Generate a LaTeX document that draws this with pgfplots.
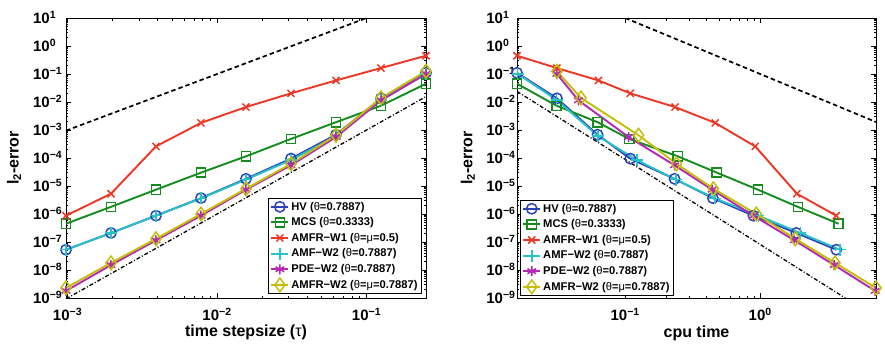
\documentclass[border=0pt]{standalone}
\usepackage{fontspec}
\setmainfont{Liberation Sans}
\usepackage{pgfplots}
\pgfplotsset{compat=1.18}
\definecolor{cHV}{RGB}{45,65,190}
\definecolor{cMCS}{RGB}{20,140,30}
\definecolor{cW1}{RGB}{235,55,35}
\definecolor{cAMF}{RGB}{40,195,200}
\definecolor{cPDE}{RGB}{180,40,180}
\definecolor{cAW2}{RGB}{195,190,10}
\newcommand{\yl}[1]{10\rlap{\textsuperscript{#1}}}
\newcommand{\xl}[1]{10\textsuperscript{#1}}
\newcommand{\lblfont}{\fontsize{16}{19}\selectfont\bfseries}
\tikzset{
  sHV/.style={color=cHV, line width=1.9pt, mark=o, mark size=5.2pt, mark options={solid, line width=1.5pt}},
  sMCS/.style={color=cMCS, line width=1.9pt, mark=square, mark size=4.6pt, mark options={solid, line width=1.5pt}},
  sW1/.style={color=cW1, line width=1.9pt, mark=x, mark size=5pt, mark options={solid, line width=1.5pt}},
  sAMF/.style={color=cAMF, line width=1.9pt, mark=+, mark size=6pt, mark options={solid, line width=1.5pt}},
  sPDE/.style={color=cPDE, line width=1.9pt, mark=asterisk, mark size=5pt, mark options={solid, line width=1.5pt}},
  sAW2/.style={color=cAW2, line width=1.9pt, mark=diamond, mark size=6.8pt, mark options={solid, line width=1.5pt}},
  refA/.style={black, line width=1.7pt, dash pattern=on 4.5pt off 3pt},
  refB/.style={black, line width=1.3pt, dash pattern=on 4pt off 2pt on 1pt off 2pt},
}
\begin{document}
\begin{tikzpicture}
\useasboundingbox (0,0) rectangle (885pt,346pt);
% ---------------- left ----------------
\begin{axis}[xmode=log, ymode=log, scale only axis, height=280pt, width=360pt,
  at={(66pt,48pt)}, anchor=south west,
  ymin=1e-9, ymax=10,
  xmin=0.0009765625, xmax=0.25,
  axis line style={line width=0.9pt},
  tick align=inside, major tick length=5pt, minor tick length=2.5pt,
  every tick/.style={black, line width=0.5pt},
  ytickten={-9,...,1},
  yticklabels={\yl{−9},\yl{−8},\yl{−7},\yl{−6},\yl{−5},\yl{−4},\yl{−3},\yl{−2},\yl{−1},\yl{0},\yl{1}},
  xtickten={-3,-2,-1}, xticklabels={\xl{−3},\xl{−2},\xl{−1}},
  tick label style={font=\fontsize{15}{18}\selectfont\bfseries},
  yticklabel style={anchor=base east, inner sep=0pt, yshift=-5.4pt, xshift=-16pt},
  xticklabel style={anchor=base, inner sep=0pt, yshift=-22.5pt},
  ylabel={l\textsubscript{2}-error},
  xlabel={time stepsize ({\mdseries τ})},
  every axis x label/.style={font=\lblfont, inner sep=0pt, at={(axis description cs:0.5,-0.138)}, anchor=base},
  every axis y label/.style={font=\lblfont, at={(axis description cs:-0.144,0.5)}, rotate=90, anchor=center},
  legend style={font=\fontsize{11.2}{13}\selectfont\bfseries, draw=black, line width=0.8pt,
      fill=white, inner xsep=2pt, inner ysep=1pt,
      nodes={inner ysep=3pt, inner xsep=2pt},
      at={(0.989,0.014)}, anchor=south east},
  legend cell align=left,
]
\addplot[refA, forget plot] coordinates {(0.0009765625,9.5e-4) (0.1,10)};
\addplot[refB, forget plot] coordinates {(0.0009765625,9.3e-10) (0.25,0.0156)};
\addplot[sHV] coordinates {(0.0009765625,5.3e-8) (0.001953125,2.1e-7) (0.00390625,8.7e-7) (0.0078125,3.7e-6) (0.015625,1.8e-5) (0.03125,9.5e-5) (0.0625,6.8e-4) (0.125,1.35e-2) (0.25,0.11)};
\addlegendentry{HV ({\mdseries θ}=0.7887)}
\addplot[sMCS] coordinates {(0.0009765625,4.5e-7) (0.001953125,1.8e-6) (0.00390625,7.4e-6) (0.0078125,3.0e-5) (0.015625,1.15e-4) (0.03125,4.8e-4) (0.0625,1.9e-3) (0.125,7.4e-3) (0.25,0.045)};
\addlegendentry{MCS ({\mdseries θ}=0.3333)}
\addplot[sW1] coordinates {(0.0009765625,8.7e-7) (0.001953125,5.3e-6) (0.00390625,2.6e-4) (0.0078125,1.8e-3) (0.015625,6.6e-3) (0.03125,0.0204) (0.0625,0.059) (0.125,0.163) (0.25,0.45)};
\addlegendentry{AMFR−W1 ({\mdseries θ}={\mdseries μ}=0.5)}
\addplot[sAMF] coordinates {(0.0009765625,5.3e-8) (0.001953125,2.1e-7) (0.00390625,8.7e-7) (0.0078125,3.6e-6) (0.015625,1.7e-5) (0.03125,8.5e-5) (0.0625,6.0e-4) (0.125,0.012) (0.25,0.1)};
\addlegendentry{AMF−W2 ({\mdseries θ}=0.7887)}
\addplot[sPDE] coordinates {(0.0009765625,1.8e-9) (0.001953125,1.5e-8) (0.00390625,1.15e-7) (0.0078125,8.7e-7) (0.015625,7.4e-6) (0.03125,5.5e-5) (0.0625,5.6e-4) (0.125,0.0115) (0.25,0.10)};
\addlegendentry{PDE−W2 ({\mdseries θ}=0.7887)}
\addplot[sAW2] coordinates {(0.0009765625,2.3e-9) (0.001953125,1.8e-8) (0.00390625,1.3e-7) (0.0078125,1.0e-6) (0.015625,8e-6) (0.03125,6.2e-5) (0.0625,6.5e-4) (0.125,0.014) (0.25,0.125)};
\addlegendentry{AMFR−W2 ({\mdseries θ}={\mdseries μ}=0.7887)}
\end{axis}
% ---------------- right ----------------
\begin{axis}[xmode=log, ymode=log, scale only axis, height=280pt, width=359pt,
  at={(517pt,48pt)}, anchor=south west,
  ymin=1e-9, ymax=10,
  xmin=0.0158, xmax=7.2,
  axis line style={line width=0.9pt},
  tick align=inside, major tick length=5pt, minor tick length=2.5pt,
  every tick/.style={black, line width=0.5pt},
  ytickten={-9,...,1},
  yticklabels={\yl{−9},\yl{−8},\yl{−7},\yl{−6},\yl{−5},\yl{−4},\yl{−3},\yl{−2},\yl{−1},\yl{0},\yl{1}},
  xtickten={-1,0}, xticklabels={\xl{−1},\xl{0}},
  tick label style={font=\fontsize{15}{18}\selectfont\bfseries},
  yticklabel style={anchor=base east, inner sep=0pt, yshift=-5.4pt, xshift=-13.8pt},
  xticklabel style={anchor=base, inner sep=0pt, yshift=-22.5pt},
  ylabel={l\textsubscript{2}-error},
  xlabel={cpu time},
  every axis x label/.style={font=\lblfont, inner sep=0pt, at={(axis description cs:0.5,-0.14)}, anchor=base},
  every axis y label/.style={font=\lblfont, at={(axis description cs:-0.137,0.5)}, rotate=90, anchor=center},
  legend style={font=\fontsize{11.2}{13}\selectfont\bfseries, draw=black, line width=0.8pt,
      fill=white, inner xsep=2pt, inner ysep=1pt,
      nodes={inner ysep=3pt, inner xsep=2pt},
      at={(0.008,0.007)}, anchor=south west},
  legend cell align=left,
]
\addplot[refA, forget plot] coordinates {(0.1,10) (7.2,1.93e-3)};
\addplot[refB, forget plot] coordinates {(0.0158,0.024) (4.26,1e-9)};
\addplot[sHV] coordinates {(0.0158,0.11) (0.0312,1.35e-2) (0.0624,6.8e-4) (0.109,9.5e-5) (0.232,1.8e-5) (0.446,3.7e-6) (0.89,8.7e-7) (1.85,2.1e-7) (3.66,5.3e-8)};
\addlegendentry{HV ({\mdseries θ}=0.7887)}
\addplot[sMCS] coordinates {(0.0158,0.045) (0.031,7.4e-3) (0.0625,1.9e-3) (0.107,4.8e-4) (0.245,1.15e-4) (0.477,3.0e-5) (0.96,7.4e-6) (1.9,1.8e-6) (3.8,4.5e-7)};
\addlegendentry{MCS ({\mdseries θ}=0.3333)}
\addplot[sW1] coordinates {(0.0158,0.45) (0.0312,0.163) (0.0634,0.059) (0.109,0.0204) (0.234,6.6e-3) (0.464,1.8e-3) (0.918,2.6e-4) (1.87,5.3e-6) (3.66,8.7e-7)};
\addlegendentry{AMFR−W1 ({\mdseries θ}={\mdseries μ}=0.5)}
\addplot[sAMF] coordinates {(0.016,0.1) (0.031,0.012) (0.063,6.0e-4) (0.122,8.5e-5) (0.237,1.7e-5) (0.464,3.6e-6) (0.97,8.7e-7) (1.98,2.1e-7) (3.9,5.3e-8)};
\addlegendentry{AMF−W2 ({\mdseries θ}=0.7887)}
\addplot[sPDE] coordinates {(0.0312,0.10) (0.045,0.0115) (0.106,5.6e-4) (0.232,5.5e-5) (0.44,7.4e-6) (0.89,8.7e-7) (1.79,1.15e-7) (3.53,1.5e-8) (7.1,1.8e-9)};
\addlegendentry{PDE−W2 ({\mdseries θ}=0.7887)}
\addplot[sAW2] coordinates {(0.0312,0.125) (0.047,0.014) (0.1255,6.5e-4) (0.24,6.2e-5) (0.45,8e-6) (0.935,1.0e-6) (1.82,1.3e-7) (3.58,1.8e-8) (7.2,2.3e-9)};
\addlegendentry{AMFR−W2 ({\mdseries θ}={\mdseries μ}=0.7887)}
\end{axis}
\end{tikzpicture}
\end{document}
